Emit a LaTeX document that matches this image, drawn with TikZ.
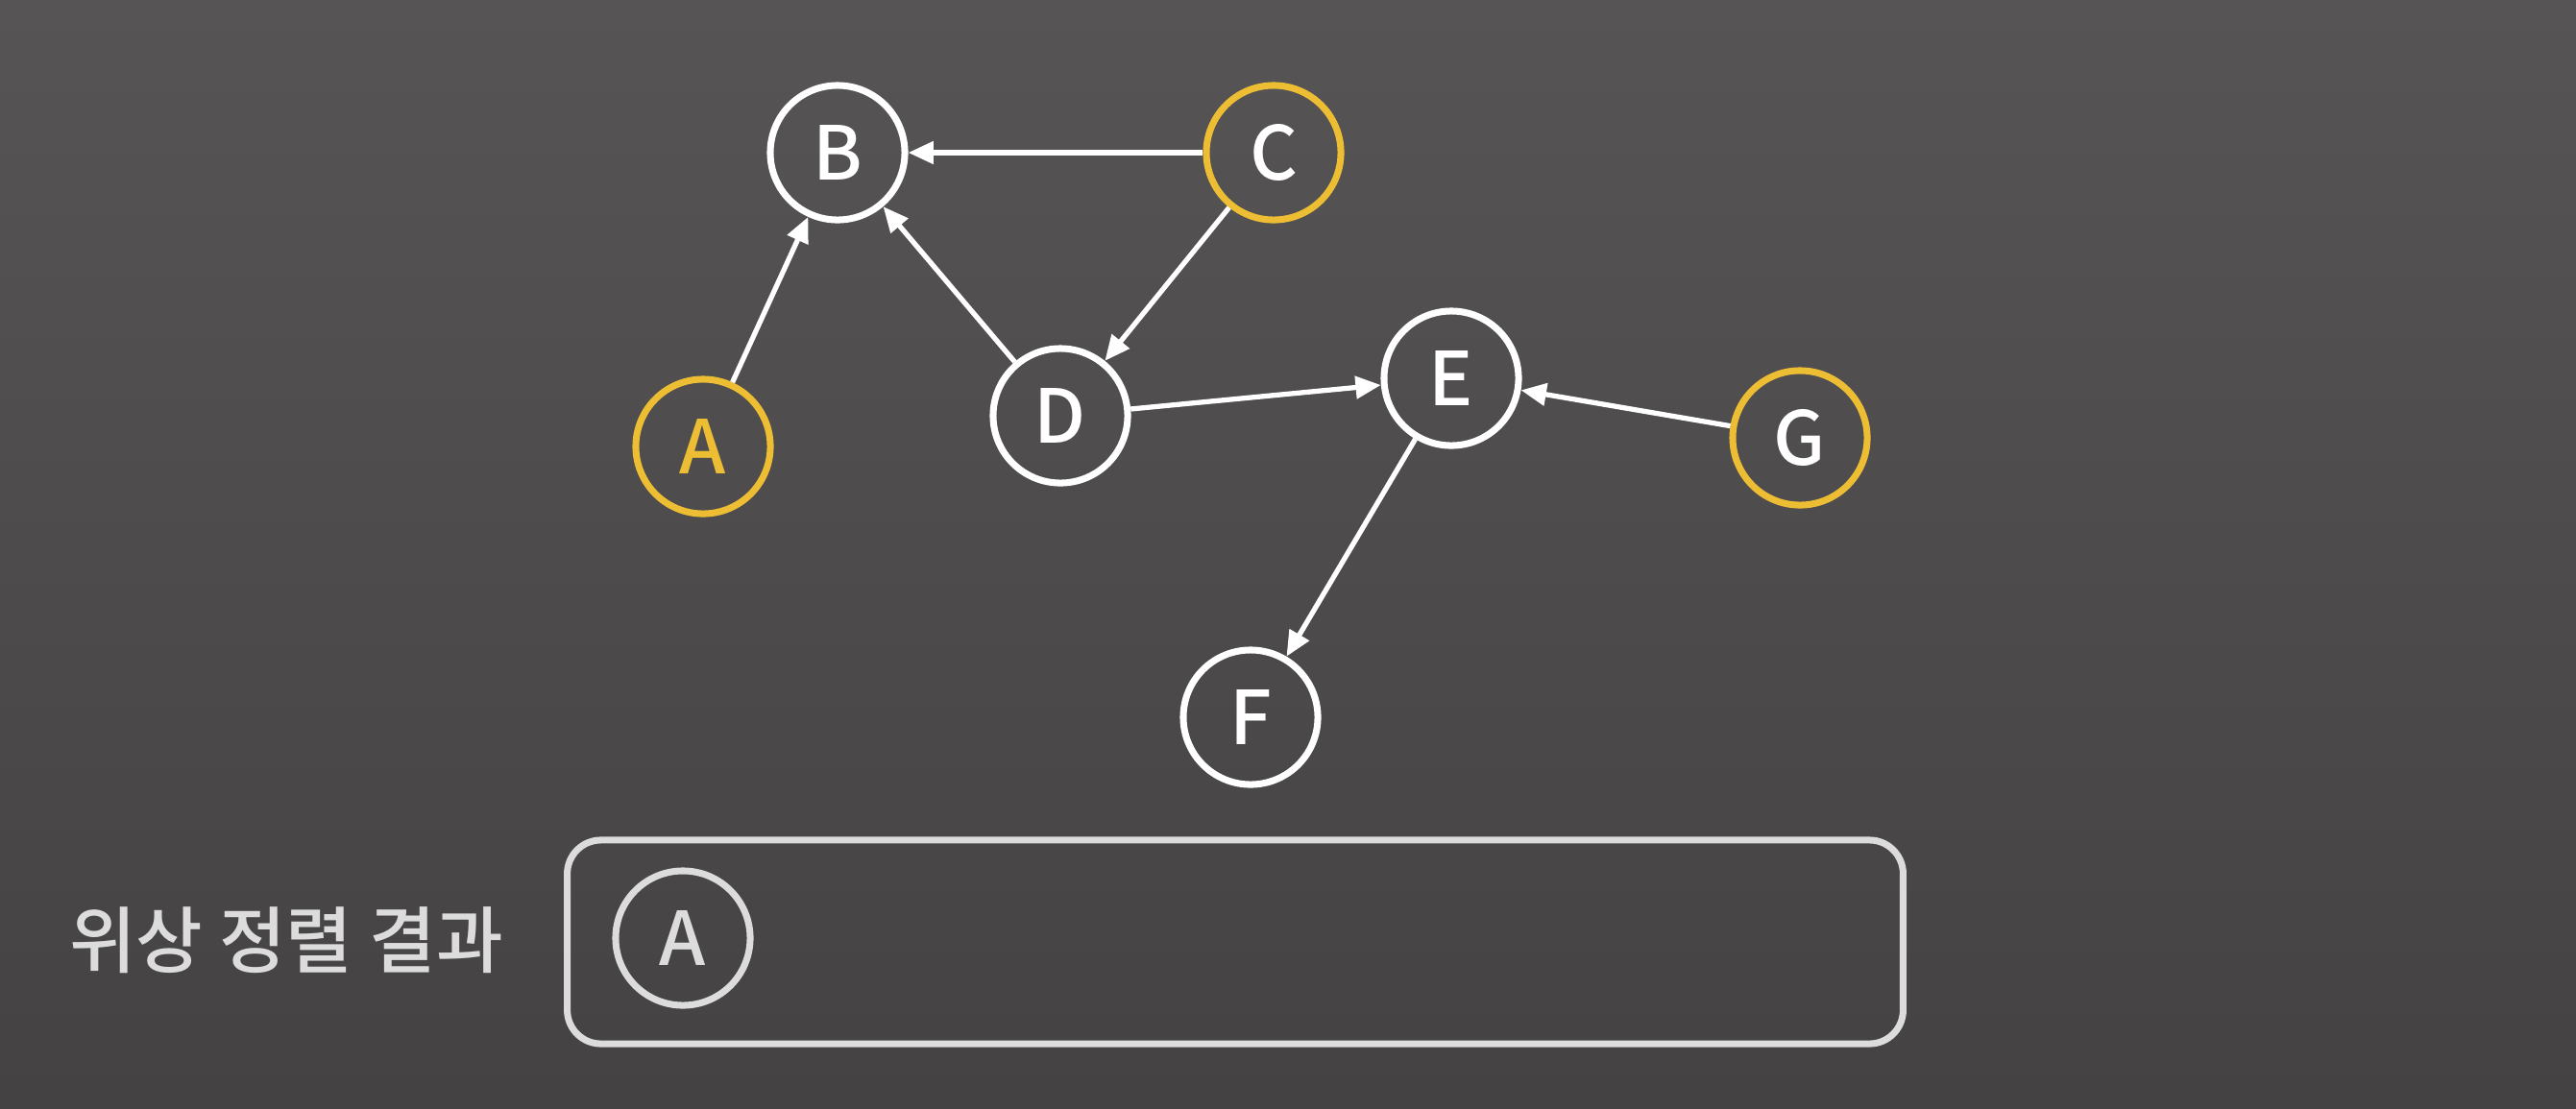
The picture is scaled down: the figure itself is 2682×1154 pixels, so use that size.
\documentclass[tikz,border=0pt]{standalone}
\usepackage{fontspec}
\setmainfont{Noto Sans CJK KR}[BoldFont={Noto Sans CJK KR Medium}]
\usetikzlibrary{arrows.meta,positioning}
\definecolor{bgtop}{HTML}{565455}
\definecolor{bgbot}{HTML}{444243}
\definecolor{srcgold}{HTML}{EDBE34}
\definecolor{pale}{HTML}{DCDCDC}

\begin{document}
\begin{tikzpicture}[x=0.01cm,y=-0.01cm,>={Triangle[length=7.5pt,width=6.5pt]},
  every node/.style={circle,draw=white,line width=2pt,inner sep=0pt,minimum size=1.4cm,
    text=white,font=\fontsize{22}{22}\selectfont\bfseries},
  src/.style={draw=srcgold},
  edge/.style={->,white,line width=1.5pt}]
  \shade[top color=bgtop,bottom color=bgbot] (0,0) rectangle (2682,1154);
  \node (B) at (872,159) {B}; \node[src] (C) at (1326,159) {C};
  \node[src,text=srcgold] (A) at (732,465) {A}; \node (D) at (1104,433) {D};
  \node (E) at (1511,394) {E}; \node[src] (G) at (1874,456) {G};
  \node (F) at (1302,747) {F};
  \draw[edge] (A)--(B); \draw[edge] (C)--(B); \draw[edge] (D)--(B);
  \draw[edge] (C)--(D); \draw[edge] (D)--(E); \draw[edge] (G)--(E);
  \draw[edge] (E)--(F);
  % result row
  \node[rectangle,draw=none,minimum size=0pt,text=pale,font=\fontsize{21.5}{22}\selectfont\bfseries] (lbl) at (298,979) {위상 정렬 결과};
  \node[rectangle,draw=pale,rounded corners=0.35cm,minimum width=13.9cm,minimum height=2.12cm] (res) at (1286,981) {};
  \node[draw=pale,text=pale] (rA) at (711,977) {A};
\end{tikzpicture}
\end{document}
